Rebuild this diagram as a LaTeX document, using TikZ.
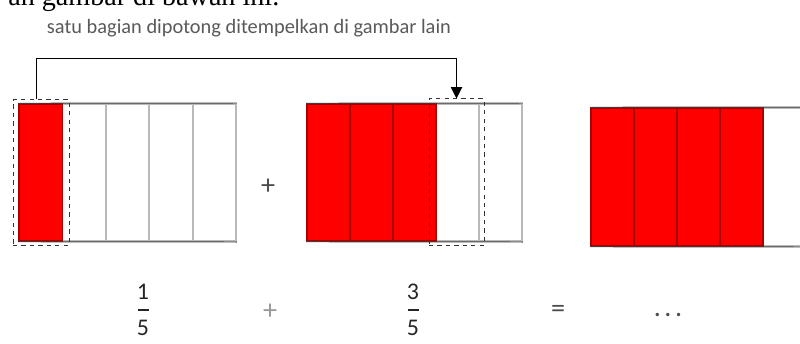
\documentclass[tikz,border=0pt]{standalone}
\usepackage{fontspec}
\setmainfont{Carlito}
\newfontfamily\judulfont{Liberation Serif}
\usetikzlibrary{arrows.meta, positioning, calc}

\begin{document}
\begin{tikzpicture}[
    x=0.025cm, y=-0.025cm,
    strip/.style={rectangle, draw=gray!55, line width=1.4pt, minimum width=1.085cm, minimum height=3.425cm, inner sep=0pt},
    redstrip/.style={strip, fill=red, draw=red!65!black, line width=1pt},
    edge/.style={draw=black!75, line width=0.7pt},
    cutbox/.style={rectangle, draw=black!80, dashed, line width=0.7pt, minimum width=1.4cm, minimum height=3.625cm, inner sep=0pt},
    arrow/.style={-{Triangle[length=8pt, width=8pt]}, line width=0.7pt},
    caption/.style={font=\fontsize{14.5}{17}\selectfont, text=black!65},
    digit/.style={font=\fontsize{17}{20}\selectfont, text=black!85, inner sep=0pt},
    fracbar/.style={draw=black!85, line width=1.8pt},
    sign/.style={font=\fontsize{20}{22}\selectfont, text=black!70}
]
\useasboundingbox (0,0) rectangle (800,343);

% cut-off line of the page above
\node[anchor=base west, font=\judulfont\fontsize{20}{24}\selectfont, inner sep=0pt] (atas) at (8,5) {an gambar di bawah ini.};

% Caption
\node[caption] (caption) at (249,28) {satu bagian dipotong ditempelkan di gambar lain};

% First picture: 1/5
\foreach \i/\st in {1/strip,2/strip,3/strip,4/strip,0/redstrip}
  \node[\st] (a\i) at ({40.7+43.4*\i},172.5) {};
\draw[edge] (a0.north west) -- (a4.north east);
\draw[edge] (a0.south west) -- (a4.south east);

% Second picture: 3/5
\foreach \i/\st in {3/strip,4/strip,0/redstrip,1/redstrip,2/redstrip}
  \node[\st, minimum width=1.075cm] (b\i) at ({328.5+43*\i},172.5) {};
\draw[edge] (b0.north west) -- (b4.north east);
\draw[edge] (b0.south west) -- (b4.south east);

% Third picture: result
\foreach \i/\st in {4/strip,0/redstrip,1/redstrip,2/redstrip,3/redstrip}
  \node[\st, minimum width=1.075cm, minimum height=3.45cm] (c\i) at ({612.5+43*\i},177) {};
\draw[edge] (c0.north west) -- (c4.north east);
\draw[edge] (c0.south west) -- (c4.south east);

% Cut and paste
\node[cutbox] (cut1) at (41,172.5) {};
\node[cutbox, minimum width=1.375cm, minimum height=3.65cm] (cut2) at (456.5,172) {};
\draw[arrow] ([xshift=-3] cut1.north) -- ++(0,-41) -| (cut2.north);

\node[sign] (plus1) at (268,187) {+};

% Fractions
\foreach \n/\x/\num in {f1/143/1, f2/413/3} {
  \node[digit] (\n-top) at (\x,292) {\num};
  \node[digit] (\n-bot) at (\x,328) {5};
  \draw[fracbar] ($(\n-top)!0.5!(\n-bot)$) +(-5.5,0) -- +(5.5,0);
}
\node[sign, text=black!40] (plus2) at (270,312) {+};
\node[sign] (eq) at (558,311) {=};
\node[sign] (dots) at (668,315) {.\hspace{2.5pt}.\hspace{2.5pt}.};
\end{tikzpicture}
\end{document}
